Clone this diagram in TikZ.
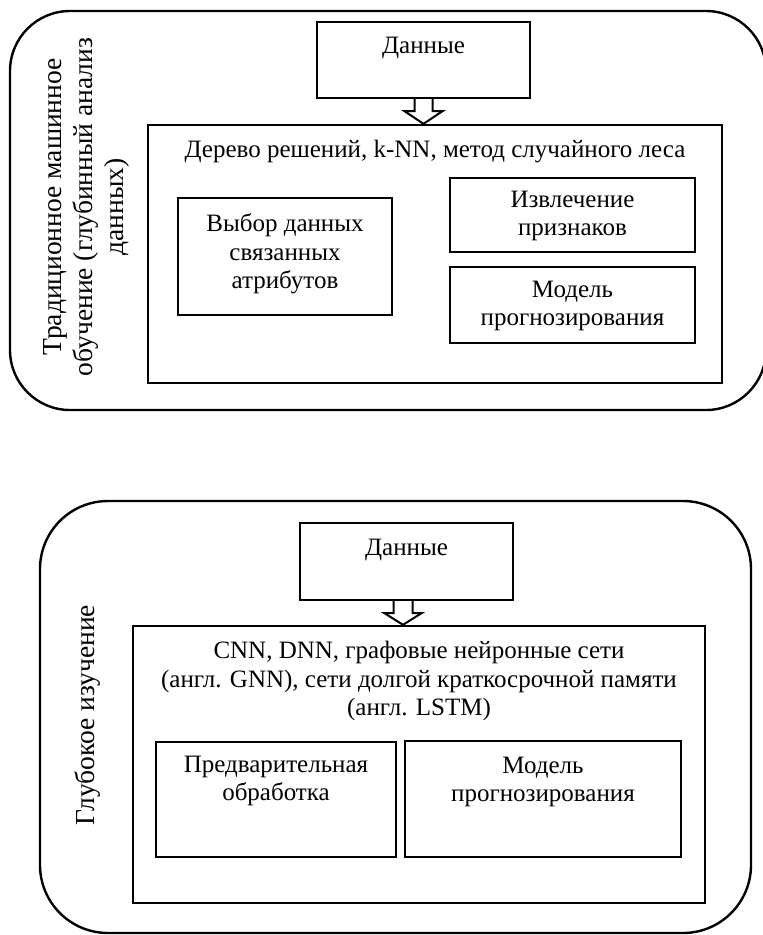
\documentclass[tikz,border=0pt]{standalone}
\usepackage{fontspec}
\setmainfont{Liberation Serif}
\usetikzlibrary{calc}
\begin{document}
\begin{tikzpicture}[x=1pt,y=-1pt,
  frame/.style={draw, line width=2.4pt, rounded corners=#1, inner sep=0pt},
  box/.style={draw, line width=2.4pt, inner sep=0pt},
  txt/.style={align=center, font=\fontsize{25}{28.5}\selectfont, inner sep=0pt},
  vtxt/.style={align=center, font=\fontsize{27.5}{31}\selectfont, rotate=90, inner sep=0pt},
  blockarrow/.style={draw, line width=2pt, fill=white, line join=miter}]
\useasboundingbox (0,0) rectangle (763,935);

% ---------- top part ----------
\node[frame=60pt, minimum width=756pt, minimum height=399pt] (outer1) at (388,210.5) {};
\node[box, minimum width=213pt, minimum height=76pt] (d1) at (423.5,60) {};
\node[txt] (d1t) at (423.5,48) {Данные};
\node[box, minimum width=574pt, minimum height=258pt] (in1) at (435,254) {};
\node[txt] (h1) at (435,152) {Дерево решений, k-NN, метод случайного леса};
\node[box, minimum width=214pt, minimum height=117pt] (sel) at (285,256.5) {};
\node[txt] (selt) at (285,254) {Выбор данных\\связанных\\атрибутов};
\node[box, minimum width=245pt, minimum height=74pt] (ext) at (572.5,215) {};
\node[txt] (extt) at (572.5,216) {Извлечение\\признаков};
\node[box, minimum width=245pt, minimum height=76pt] (mod1) at (572.5,305) {};
\node[txt] (mod1t) at (572.5,306) {Модель\\прогнозирования};
\node[vtxt] (lab1) at (86,207) {Традиционное машинное\\обучение (глубинный анализ\\данных)};
\draw[blockarrow] ($(d1.south)+(-9,0)$) -- ($(d1.south)+(-9,12)$) -- ($(d1.south)+(-19,12)$)
  -- (d1.south |- in1.north) -- ($(d1.south)+(19,12)$) -- ($(d1.south)+(9,12)$) -- ($(d1.south)+(9,0)$);

% ---------- bottom part ----------
\node[frame=68pt, minimum width=711pt, minimum height=432pt] (outer2) at (395.5,717) {};
\node[box, minimum width=213pt, minimum height=77pt] (d2) at (406.5,561.5) {};
\node[txt] (d2t) at (406.5,550) {Данные};
\node[box, minimum width=572pt, minimum height=277pt] (in2) at (419,764.5) {};
\node[txt] (h2) at (419,681) {CNN, DNN, графовые нейронные сети\\(англ. GNN), сети долгой краткосрочной памяти\\(англ. LSTM)};
\node[box, minimum width=240pt, minimum height=115pt] (pre) at (276,799.5) {};
\node[txt] (pret) at (276,781) {Предварительная\\обработка};
\node[box, minimum width=276pt, minimum height=116pt] (mod2) at (543,799) {};
\node[txt] (mod2t) at (543,782) {Модель\\прогнозирования};
\node[vtxt] (lab2) at (88,715) {Глубокое изучение};
\draw[blockarrow] ($(d2.south)+(-13,0)$) -- ($(d2.south)+(-13,12)$) -- ($(d2.south)+(-22,12)$)
  -- ($(d2.south |- in2.north)+(-3.5,0)$) -- ($(d2.south)+(15,12)$) -- ($(d2.south)+(6,12)$) -- ($(d2.south)+(6,0)$);
\end{tikzpicture}
\end{document}
